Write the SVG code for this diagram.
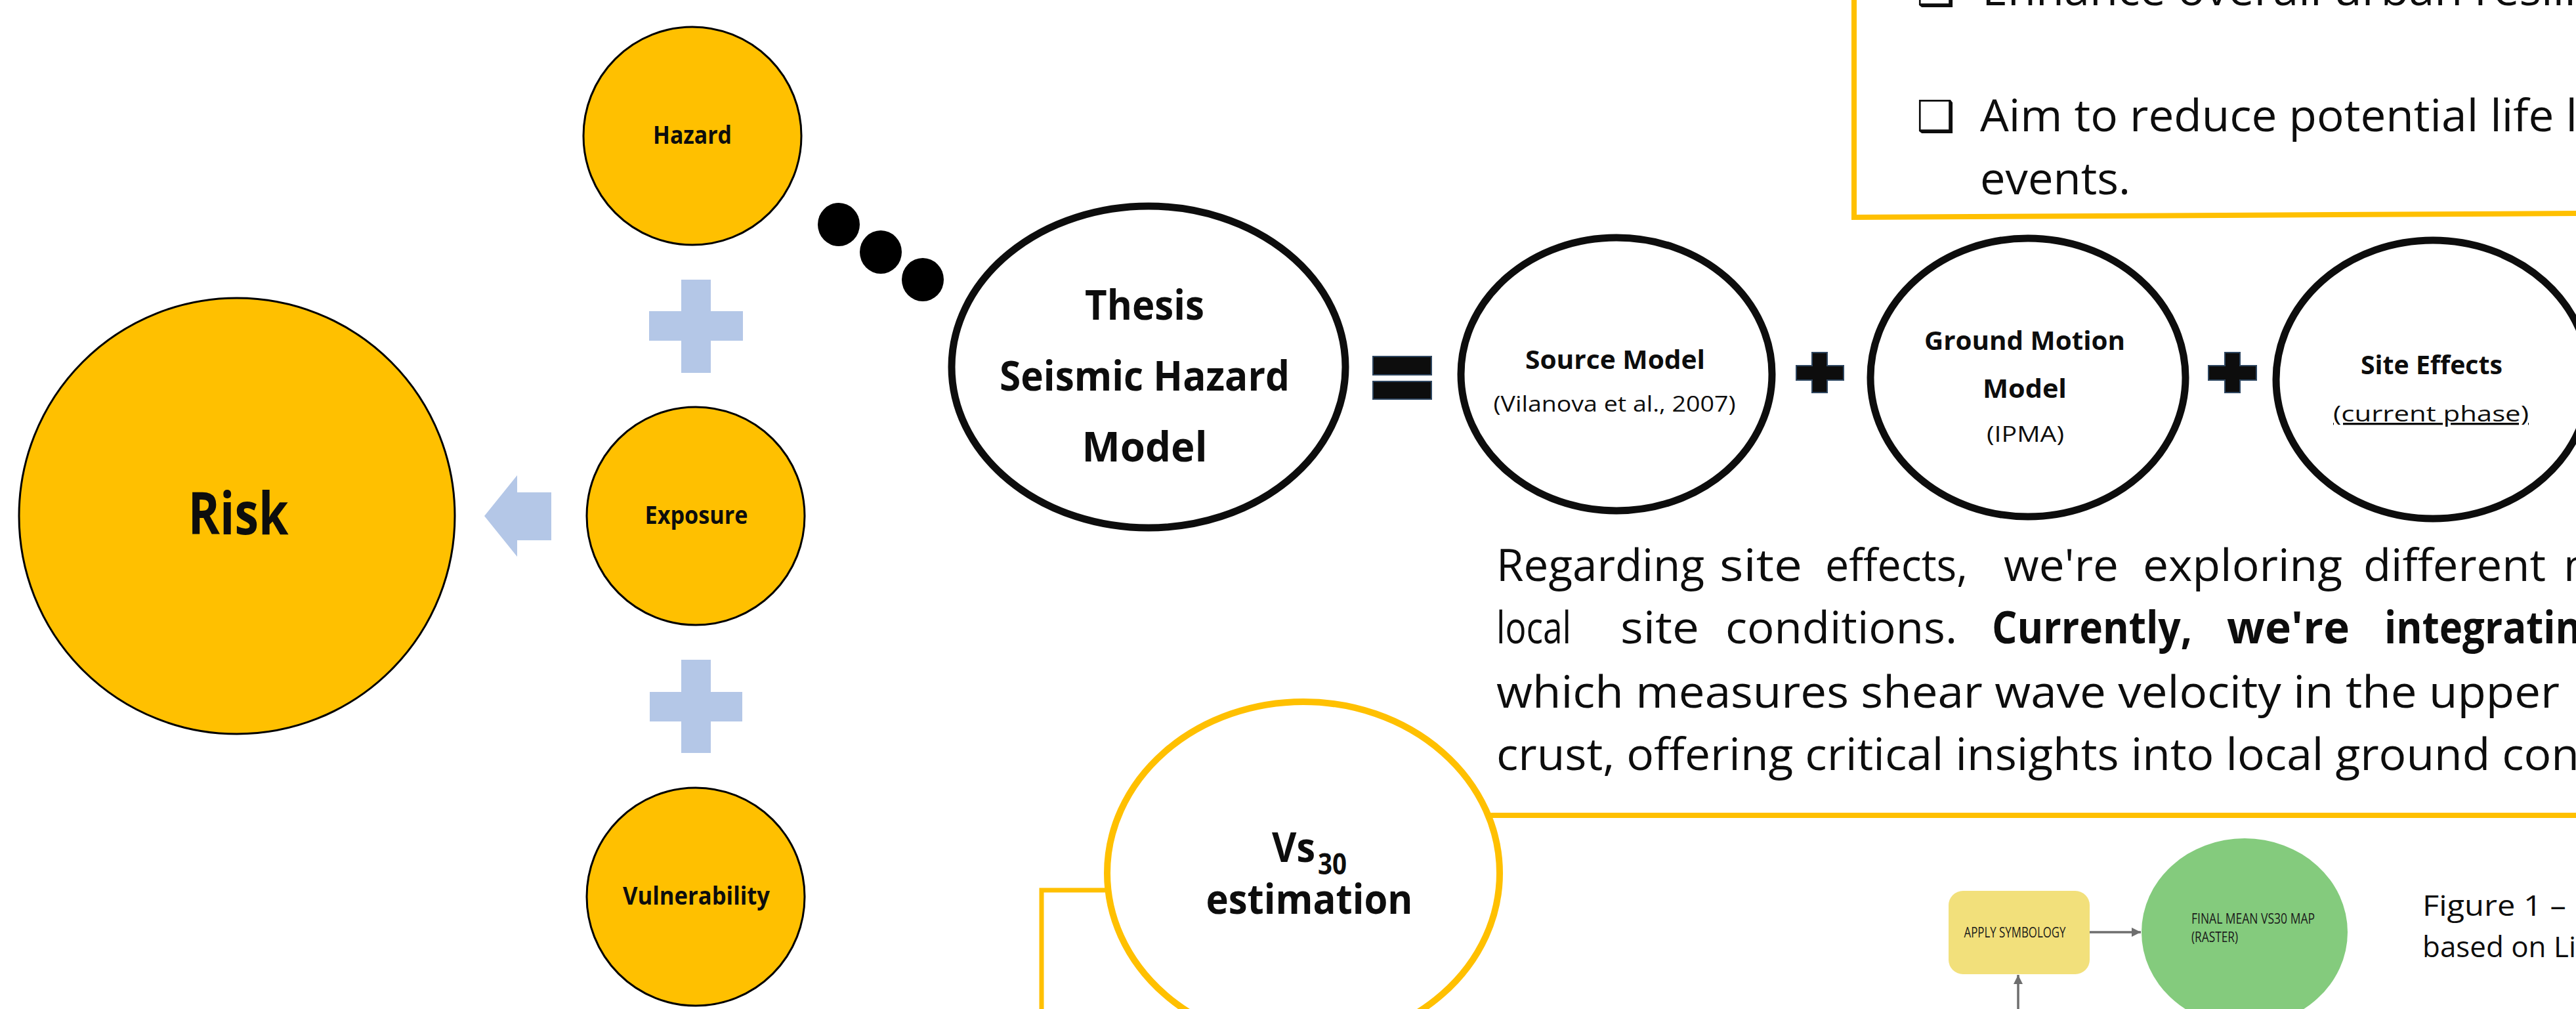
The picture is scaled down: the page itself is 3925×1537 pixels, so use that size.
<svg xmlns="http://www.w3.org/2000/svg" width="3925" height="1537" viewBox="0 0 3925 1537">
<style>
text{font-family:"Open Sans","Noto Sans","Liberation Sans",sans-serif;fill:#0d0d0d}
.b{font-weight:700}
.c{text-anchor:middle}
.yel{fill:#FFC000;stroke:#000;stroke-width:3}
.big{fill:#fff;stroke:#0d0d0d;stroke-width:11}
.lb{fill:#B4C7E7}
.op{fill:#0d0d0d;stroke:#2E4660;stroke-width:2}
.yl{fill:none;stroke:#FFC000}
.ga{fill:none;stroke:#6E6E6E;stroke-width:3.5}
.body{font-size:68px}
.sm{font-size:21px;fill:#1a1a1a}
.cb{font-family:"DejaVu Sans",sans-serif;font-weight:700;font-size:66px}
</style>
<defs>
<marker id="ah" viewBox="0 0 10 10" refX="10" refY="5" markerWidth="20" markerHeight="14" markerUnits="userSpaceOnUse" orient="auto">
<path d="M0 0L10 5L0 10z" fill="#6E6E6E"/>
</marker>
</defs>
<rect width="3925" height="1537" fill="#fff"/>

<!-- top-right objectives box -->
<g id="objectives">
<path class="yl" stroke-width="8" d="M2825 -20V331L3935 325"/>
<text class="cb" x="2920" y="8">❑</text>
<text class="body" x="3020" y="8" font-size="69" textLength="905" lengthAdjust="spacingAndGlyphs">Enhance overall urban resili</text>
<text class="cb" x="2920" y="200">❑</text>
<text class="body" x="3017" y="200" font-size="69" textLength="910" lengthAdjust="spacingAndGlyphs">Aim to reduce potential life l</text>
<text class="body" x="3017" y="296" font-size="69" textLength="229" lengthAdjust="spacingAndGlyphs">events.</text>
</g>

<!-- connectors -->
<g id="connectors">
<polygon class="lb" points="738,786 788,724 788,750 840,750 840,823 788,823 788,848"/>
<ellipse cx="1278" cy="342" rx="32" ry="33" fill="#000"/>
<ellipse cx="1342" cy="384" rx="32" ry="33" fill="#000"/>
<ellipse cx="1406" cy="426" rx="32" ry="33" fill="#000"/>
<path class="yl" stroke-width="8" d="M2260 1242H3930"/>
<path class="yl" stroke-width="7" d="M1695 1356H1587V1540"/>
<path class="ga" d="M3184 1420H3262" marker-end="url(#ah)"/>
<path class="ga" d="M3075 1540V1485" marker-end="url(#ah)"/>
</g>

<!-- operators -->
<g id="operators">
<path class="lb" d="M1038 426H1083V474H1132V519H1083V568H1038V519H989V474H1038Z"/>
<path class="lb" d="M1038 1005H1083V1054H1131V1099H1083V1147H1038V1099H990V1054H1038Z"/>
<rect class="op" x="2092" y="543" width="89" height="28"/>
<rect class="op" x="2092" y="581" width="89" height="27"/>
<path class="op" d="M2761 537H2784V557H2809V579H2784V598H2761V579H2737V557H2761Z"/>
<path class="op" d="M3390 537H3413V557H3438V579H3413V598H3390V579H3365V557H3390Z"/>
</g>

<g id="risk">
<circle class="yel" cx="361" cy="786" r="332"/>
<text class="b c" x="363" y="814" font-size="90" textLength="153" lengthAdjust="spacingAndGlyphs">Risk</text>
</g>
<g id="hazard">
<circle class="yel" cx="1055" cy="207" r="166"/>
<text class="b c" x="1055" y="219" font-size="37" textLength="120" lengthAdjust="spacingAndGlyphs">Hazard</text>
</g>
<g id="exposure">
<circle class="yel" cx="1060" cy="786" r="166"/>
<text class="b c" x="1061" y="798" font-size="37" textLength="157" lengthAdjust="spacingAndGlyphs">Exposure</text>
</g>
<g id="vulnerability">
<circle class="yel" cx="1060" cy="1366" r="166"/>
<text class="b c" x="1061" y="1378" font-size="37" textLength="224" lengthAdjust="spacingAndGlyphs">Vulnerability</text>
</g>

<g id="thesis">
<ellipse class="big" cx="1750" cy="559" rx="300" ry="245"/>
<text class="b c" x="1744" y="487" font-size="63" textLength="182" lengthAdjust="spacingAndGlyphs">Thesis</text>
<text class="b c" x="1744" y="595" font-size="63" textLength="442" lengthAdjust="spacingAndGlyphs">Seismic Hazard</text>
<text class="b c" x="1744" y="703" font-size="63" textLength="191" lengthAdjust="spacingAndGlyphs">Model</text>
</g>
<g id="source-model">
<ellipse class="big" cx="2463" cy="570" rx="237" ry="208"/>
<text class="b c" x="2461" y="562" font-size="40" textLength="274" lengthAdjust="spacingAndGlyphs">Source Model</text>
<text class="c" x="2460" y="627" font-size="33" textLength="369" lengthAdjust="spacingAndGlyphs">(Vilanova et al., 2007)</text>
</g>
<g id="ground-motion-model">
<ellipse class="big" cx="3090" cy="575" rx="240" ry="212"/>
<text class="b c" x="3085" y="533" font-size="40" textLength="306" lengthAdjust="spacingAndGlyphs">Ground Motion</text>
<text class="b c" x="3085" y="606" font-size="40" textLength="128" lengthAdjust="spacingAndGlyphs">Model</text>
<text class="c" x="3086" y="673" font-size="33" textLength="118" lengthAdjust="spacingAndGlyphs">(IPMA)</text>
</g>
<g id="site-effects">
<ellipse class="big" cx="3707" cy="578" rx="239" ry="212"/>
<text class="b c" x="3705" y="570" font-size="40" textLength="216" lengthAdjust="spacingAndGlyphs">Site Effects</text>
<text class="c" x="3704" y="642" font-size="33" textLength="298" lengthAdjust="spacingAndGlyphs" text-decoration="underline">(current phase)</text>
</g>

<g id="paragraph" class="body">
<text x="2280" y="885" textLength="317" lengthAdjust="spacingAndGlyphs">Regarding</text>
<text x="2620" y="885" textLength="126" lengthAdjust="spacingAndGlyphs">site</text>
<text x="2781" y="885" textLength="217" lengthAdjust="spacingAndGlyphs">effects,</text>
<text x="3053" y="885" textLength="175" lengthAdjust="spacingAndGlyphs">we're</text>
<text x="3265" y="885" textLength="304" lengthAdjust="spacingAndGlyphs">exploring</text>
<text x="3601" y="885" textLength="278" lengthAdjust="spacingAndGlyphs">different</text>
<text x="3906" y="885">m</text>
<text x="2280" y="980" textLength="114" lengthAdjust="spacingAndGlyphs">local</text>
<text x="2469" y="980" textLength="120" lengthAdjust="spacingAndGlyphs">site</text>
<text x="2629" y="980" textLength="353" lengthAdjust="spacingAndGlyphs">conditions.</text>
<text class="b" x="3035" y="980" textLength="305" lengthAdjust="spacingAndGlyphs">Currently,</text>
<text class="b" x="3393" y="980" textLength="187" lengthAdjust="spacingAndGlyphs">we're</text>
<text class="b" x="3633" y="980" textLength="300" lengthAdjust="spacingAndGlyphs">integratin</text>
<text x="2280" y="1078" textLength="1620" lengthAdjust="spacingAndGlyphs">which measures shear wave velocity in the upper</text>
<text x="2280" y="1173" textLength="1650" lengthAdjust="spacingAndGlyphs">crust, offering critical insights into local ground con</text>
</g>

<g id="vs30">
<ellipse cx="1986" cy="1330" rx="299" ry="261" fill="#fff" stroke="#FFC000" stroke-width="10"/>
<text class="b" x="1938" y="1313" font-size="63" textLength="66" lengthAdjust="spacingAndGlyphs">Vs</text>
<text class="b" x="2008" y="1332" font-size="45" textLength="44" lengthAdjust="spacingAndGlyphs">30</text>
<text class="b c" x="1995" y="1392" font-size="63" textLength="315" lengthAdjust="spacingAndGlyphs">estimation</text>
</g>

<g id="apply-symbology">
<rect x="2969" y="1357" width="215" height="127" rx="22" fill="#F2E07B"/>
<text class="sm c" x="3070" y="1428" textLength="155" lengthAdjust="spacingAndGlyphs">APPLY SYMBOLOGY</text>
</g>
<g id="final-map">
<ellipse cx="3420" cy="1420" rx="157" ry="143" fill="#84CB7D"/>
<text class="sm" x="3339" y="1407" textLength="188" lengthAdjust="spacingAndGlyphs">FINAL MEAN VS30 MAP</text>
<text class="sm" x="3339" y="1435" textLength="71" lengthAdjust="spacingAndGlyphs">(RASTER)</text>
</g>
<g id="caption">
<text x="3691" y="1395" font-size="44" textLength="219" lengthAdjust="spacingAndGlyphs">Figure 1 –</text>
<text x="3691" y="1458" font-size="44" textLength="234" lengthAdjust="spacingAndGlyphs">based on Li</text>
</g>
</svg>
